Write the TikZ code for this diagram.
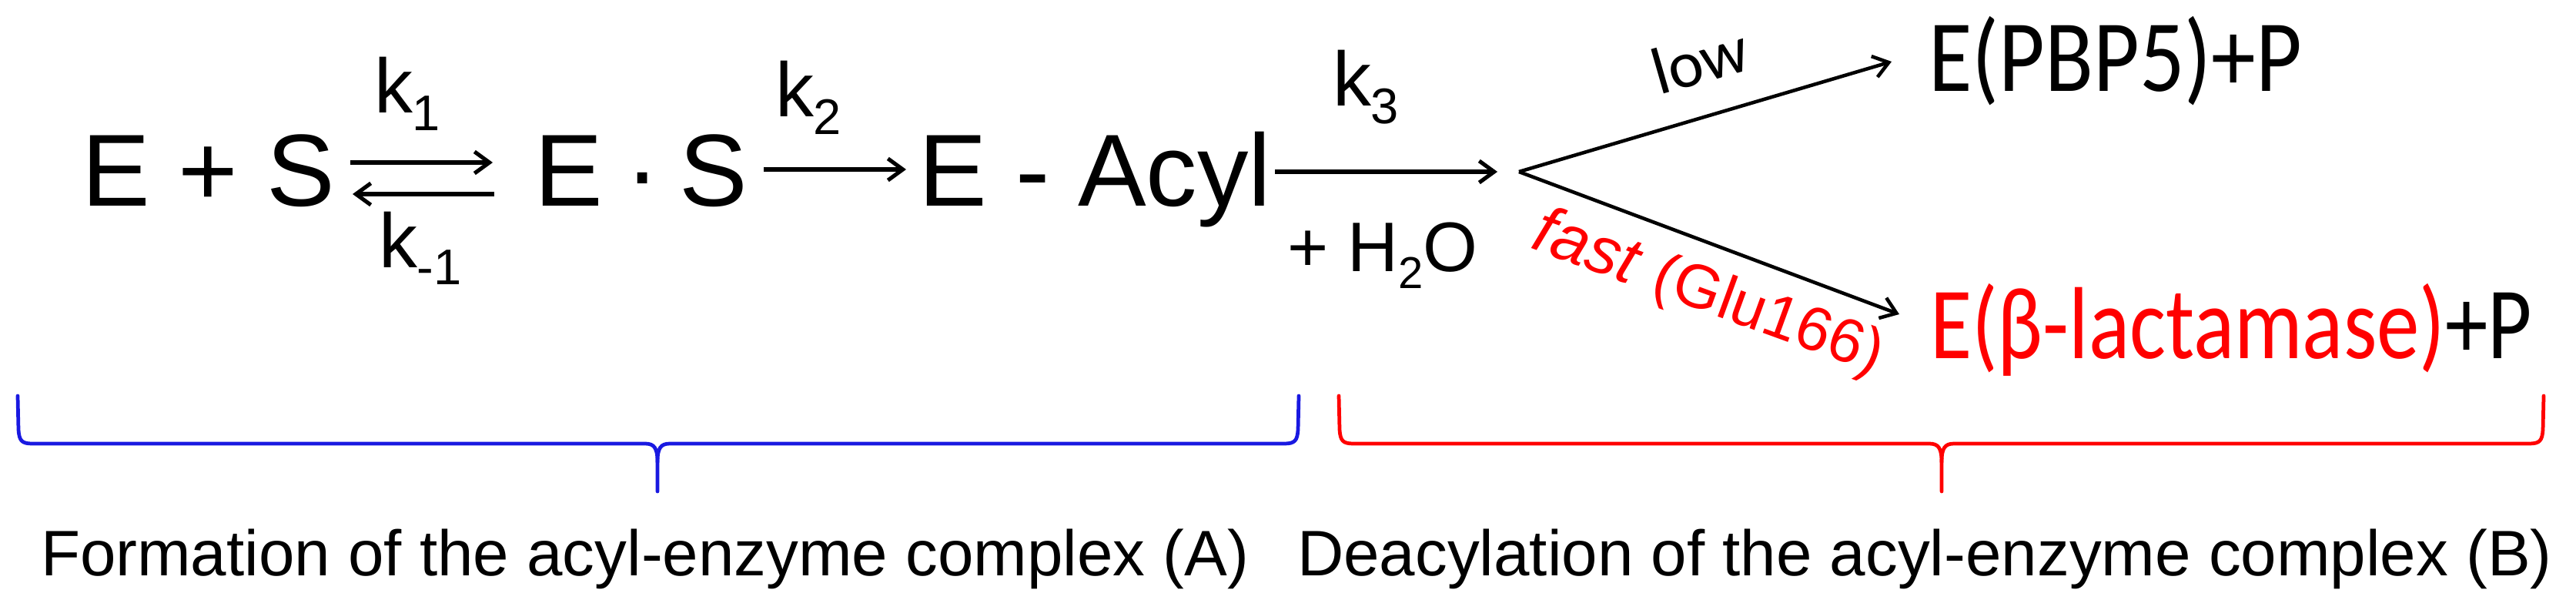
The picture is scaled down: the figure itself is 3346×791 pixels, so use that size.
\documentclass[tikz,border=0pt]{standalone}
\usepackage{fontspec}
\setmainfont{Liberation Sans}
\newfontfamily\calfont{Carlito}
\usetikzlibrary{arrows.meta}
\definecolor{bracblue}{RGB}{25,25,225}
\definecolor{bracred}{RGB}{255,0,0}
\newcommand\ksubs[2][6.5pt]{\raisebox{-#1}{\fontsize{18.5}{19}\selectfont #2}}
\begin{document}
\begin{tikzpicture}[x=0.01cm,y=-0.01cm,
  every node/.style={inner sep=0pt,outer sep=0pt},
  rxn/.style={anchor=base west,font=\fontsize{37.8}{40}\selectfont},
  klab/.style={anchor=base west,font=\fontsize{28.4}{30}\selectfont},
  prod/.style={anchor=base west,font=\calfont\fontsize{37.8}{40}\selectfont},
  caption/.style={anchor=base west,font=\fontsize{23.76}{26}\selectfont},
  rarrow/.style={line width=1.45pt,-{Straight Barb[length=5.5pt,width=8pt]}},
  barrow/.style={line width=1.3pt,-{Straight Barb[length=5.5pt,width=8pt]}},
  bracestyle/.style={line width=1.35pt,line cap=round,line join=round}]
\useasboundingbox (0,0) rectangle (3346,791);

% main chain
\node[rxn] (es) at (106.5,267) {E + S};
\node[rxn] (ecs) at (694.5,267) {E\kern8.4pt·\kern7.4pt S};
\node[rxn] (acyl) at (1193.5,267) {E - Acyl};

% rate constants
\node[klab] (k1) at (486,147) {k\ksubs{1}};
\node[klab] (km1) at (492,347) {k\ksubs{-1}};
\node[klab] (k2) at (1007,152) {k\ksubs{2}};
\node[klab] (k3) at (1731,138) {k\ksubs{3}};
\node[anchor=base west,font=\fontsize{25.9}{28}\selectfont] (h2o) at (1672,352) {+ H\ksubs[6.5pt]{\fontsize{16.5}{17}\selectfont 2}O};

% arrow end points
\coordinate (a1s) at (455,211);
\coordinate (a1e) at (640,211);
\coordinate (a2s) at (642,252);
\coordinate (a2e) at (458,252);
\coordinate (a3s) at (992,220);
\coordinate (a3e) at (1177,220);
\coordinate (a4s) at (1656,223);
\coordinate (a4e) at (1945,223);
\coordinate (v) at (1973,223);
\coordinate (up) at (2457,80);
\coordinate (dn) at (2467,408);

\draw[rarrow] (a1s) -- (a1e);
\draw[rarrow] (a2s) -- (a2e);
\draw[rarrow] (a3s) -- (a3e);
\draw[rarrow] (a4s) -- (a4e);
\draw[barrow] (v) -- (up);
\draw[barrow] (v) -- (dn);

% branch labels
\node[font=\calfont\fontsize{24.5}{26}\selectfont,rotate=16] (low) at (2208,78) {low};
\node[font=\fontsize{24.5}{25}\selectfont,text=bracred,rotate=-20] (fast) at (2219,382) {\textit{fast} {\fontsize{22.8}{24}\selectfont(Glu166)}};

% products
\node[prod,xscale=0.87] (p1) at (2505,119) {E(PBP5)+P};
\node[prod,xscale=0.835] (p2) at (2507,465) {\textcolor{bracred}{E(β-lactamase)}+P};

% braces
\draw[bracestyle,bracblue] (23,514) -- (24,558) .. controls (25,572) and (28,576) .. (42,576) -- (838,576) .. controls (850,576) and (854,582) .. (854,600) -- (854,638);
\draw[bracestyle,bracblue] (854,600) .. controls (854,582) and (858,576) .. (870,576) -- (1668,576) .. controls (1682,576) and (1685,572) .. (1686,558) -- (1687,514);
\draw[bracestyle,bracred] (1739,514) -- (1740,558) .. controls (1741,572) and (1744,576) .. (1758,576) -- (2506,576) .. controls (2518,576) and (2522,582) .. (2522,600) -- (2522,638);
\draw[bracestyle,bracred] (2522,600) .. controls (2522,582) and (2526,576) .. (2538,576) -- (3285,576) .. controls (3299,576) and (3302,572) .. (3303,558) -- (3304,514);

% captions
\node[caption] (capA) at (53,747) {Formation of the acyl-enzyme complex (A)};
\node[caption] (capB) at (1685,747) {Deacylation of the acyl-enzyme complex (B)};
\end{tikzpicture}
\end{document}
